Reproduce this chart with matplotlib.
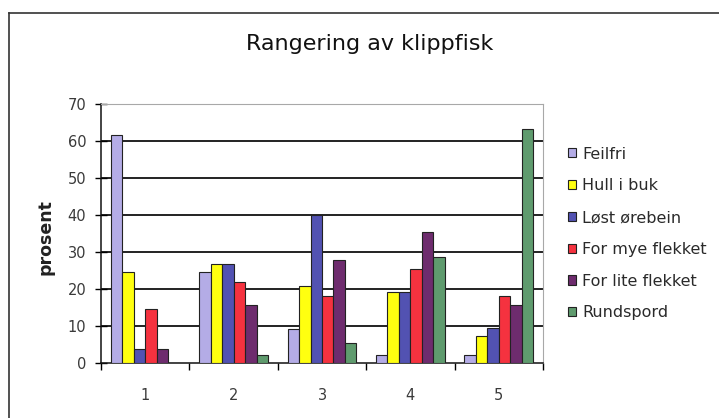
import matplotlib
matplotlib.use("Agg")
import matplotlib.pyplot as plt
from matplotlib.lines import Line2D
from matplotlib.patches import Patch
import numpy as np

plt.rcParams['font.family'] = ['DejaVu Sans']

categories = ["1", "2", "3", "4", "5"]
series_names = ["Feilfri", "Hull i buk", "Løst ørebein", "For mye flekket",
                "For lite flekket", "Rundspord"]
feilfri = [61.5, 24.7, 9.3, 2.1, 2.1]
hull_i_buk = [24.7, 26.8, 20.9, 19.1, 7.4]
lost_orebein = [3.8, 26.8, 40.1, 19.1, 9.5]
for_mye_flekket = [14.7, 21.9, 18.1, 25.5, 18.2]
for_lite_flekket = [3.8, 15.8, 27.9, 35.5, 15.7]
rundspord = [0.0, 2.1, 5.3, 28.7, 63.3]
y_ticks = [0, 10, 20, 30, 40, 50, 60, 70]

series = [feilfri, hull_i_buk, lost_orebein, for_mye_flekket,
          for_lite_flekket, rundspord]
colors = ["#B4ACE6", "#FFFF10", "#5252B2", "#F5323F", "#6E2C6E", "#5F9B6E"]

W, H = 719, 418
fig = plt.figure(figsize=(W / 100, H / 100), dpi=100)
ax = fig.add_axes([101 / W, 1 - 363 / H, (543 - 101) / W, (363 - 104) / H])

x = np.arange(1, len(categories) + 1)
bw = 0.13
for j, (vals, col) in enumerate(zip(series, colors)):
    ax.bar(x + (j - 2.5) * bw, vals, width=bw, color=col,
           edgecolor="#222222", linewidth=0.8, zorder=3)

ax.set_xlim(0.5, 5.5)
ax.set_ylim(0, 70)
ax.set_yticks(y_ticks)
ax.set_yticklabels([str(v) for v in y_ticks], fontsize=10.5, color="#3a3a3a")
ax.set_xticks(x)
ax.set_xticklabels(categories, fontsize=10.5, color="#3a3a3a")
ax.tick_params(axis="x", which="major", length=0, pad=18)
ax.set_xticks(np.arange(0.5, 5.6, 1.0), minor=True)
ax.tick_params(axis="x", which="minor", length=5, direction="out", width=1)
ax.tick_params(axis="y", which="major", length=9, direction="inout", width=1, pad=6)

for v in y_ticks[1:-1]:
    ax.axhline(v, color="#111111", linewidth=1.3, zorder=1)

ax.spines["left"].set_color("#111111")
ax.spines["bottom"].set_color("#111111")
ax.spines["left"].set_linewidth(1.1)
ax.spines["bottom"].set_linewidth(1.1)
ax.spines["top"].set_color("#A8A8A8")
ax.spines["right"].set_color("#A8A8A8")

fig.text(370 / W, 1 - 44 / H, "Rangering av klippfisk", ha="center",
         va="center", fontsize=16, color="#111111")
fig.text(46 / W, 1 - 237 / H, "prosent", rotation=90, ha="center",
         va="center", fontsize=12.5, fontweight="bold", color="#222222")

handles = [Patch(facecolor=c, edgecolor="#222222", linewidth=0.8) for c in colors]
fig.legend(handles, series_names, loc="center left",
           bbox_to_anchor=(560 / W, 1 - 233.5 / H), frameon=False,
           fontsize=11.5, handlelength=0.5, handleheight=0.5,
           handletextpad=0.4, labelspacing=1.05, borderpad=0,
           labelcolor="#2a2a2a")

# outer chart frame
fig.add_artist(Line2D([9 / W, 9 / W], [0, 1 - 13 / H], transform=fig.transFigure,
                      color="#333333", linewidth=1.2))
fig.add_artist(Line2D([9 / W, 1], [1 - 13 / H, 1 - 13 / H], transform=fig.transFigure,
                      color="#333333", linewidth=1.2))

fig.savefig("out.png", dpi=100)
